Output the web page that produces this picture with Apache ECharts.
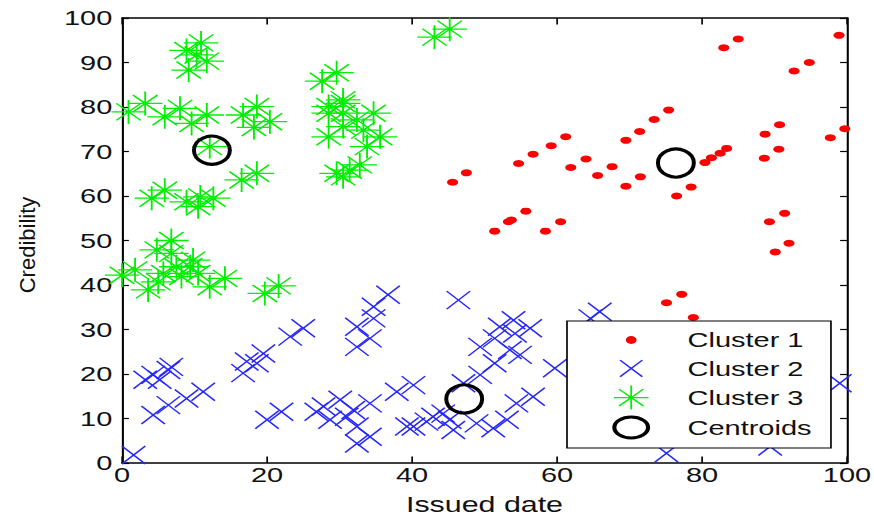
<!DOCTYPE html>
<html>
<head>
<meta charset="utf-8">
<script src="https://cdn.jsdelivr.net/npm/echarts@6/dist/echarts.min.js"></script>
<style>
html,body{margin:0;padding:0;background:#fff;}
#wrap{position:absolute;left:0;top:0;width:874px;height:517px;overflow:hidden;background:#fff;}
#c{width:633px;height:517px;transform-origin:0 0;}
</style>
</head>
<body>
<div id="wrap"><div id="c"></div></div>
<script>
// ---- data ----
const seriesNames = ['Cluster 1', 'Cluster 2', 'Cluster 3', 'Centroids'];
const xTickLabels = [0, 20, 40, 60, 80, 100];
const yTickLabels = [0, 10, 20, 30, 40, 50, 60, 70, 80, 90, 100];
const xAxisTitle = 'Issued date';
const yAxisTitle = 'Credibility';

const cluster1 = [
  [85.0,95.3],[83.0,93.3],[98.9,96.1],[94.8,90.0],[92.7,88.1],
  [75.4,79.3],[73.4,77.2],[71.4,74.5],[69.5,72.5],
  [61.2,73.3],[59.2,71.3],[56.7,69.4],[54.7,67.3],
  [47.5,65.2],[45.6,63.1],
  [64.0,68.3],[61.9,66.4],[67.6,66.6],[65.6,64.6],
  [71.5,64.3],[69.5,62.2],[78.5,62.0],[76.5,60.0],
  [83.4,70.7],[82.5,69.6],[81.3,68.6],[80.4,67.5],
  [90.7,76.0],[88.7,73.9],[90.6,70.5],[88.6,68.5],
  [99.7,75.1],[97.7,73.1],
  [55.7,56.6],[53.7,54.6],[53.3,54.2],[51.4,52.1],
  [60.5,54.2],[58.4,52.1],
  [91.4,56.1],[89.3,54.2],
  [92.0,49.4],[90.1,47.4],
  [77.2,37.9],[75.1,36.0],[78.8,32.7]
];
const cluster2 = [
  [1.6,1.8],[4.3,19.8],[6.4,20.9],[3.2,18.7],[5.2,18.7],[6.8,21.6],
  [4.3,10.8],[6.4,13.0],[8.9,14.5],[11.2,16.0],
  [16.7,20.2],[18.6,22.4],[17.2,22.8],[19.5,24.6],[23.2,28.4],[25.0,30.3],
  [20.0,9.7],[22.0,11.5],[27.8,12.7],[30.1,14.2],[28.7,9.7],[31.0,10.4],
  [32.4,4.4],[34.2,5.9],[32.4,8.2],[34.2,13.4],[31.9,11.9],[26.8,11.5],
  [32.4,26.1],[34.2,28.0],[32.4,30.6],[34.7,32.5],[36.7,37.8],[34.7,35.1],
  [37.9,16.0],[39.3,8.2],
  [46.4,36.6],[40.2,17.5],[54.0,32.1],[52.1,30.6],[56.3,30.3],[54.2,29.1],
  [49.4,26.1],[51.4,28.0],[53.5,25.4],[54.9,24.3],[51.4,22.4],[49.4,19.8],
  [47.1,17.9],[59.7,21.3],[65.9,34.0],[64.6,32.5],
  [56.7,14.9],[54.4,13.4],[53.1,9.7],[51.2,7.8],[48.9,8.9],[42.9,10.4],
  [44.3,11.1],[42.0,9.3],[40.2,8.2],[45.7,7.4],[45.2,9.7],
  [75.1,2.2],[89.4,3.7],[99.0,17.9]
];
const cluster3 = [
  [10.9,94.4],[8.9,92.7],[11.7,90.3],[9.2,88.3],[10.3,91.7],
  [29.6,87.7],[27.6,85.8],[43.1,95.7],[45.2,97.5],
  [3.2,80.8],[0.9,78.9],[8.0,79.7],[5.9,77.8],[11.7,78.2],[9.6,76.3],
  [18.6,80.1],[16.7,78.2],[20.4,76.7],[18.2,75.4],
  [30.5,81.6],[28.5,80.1],[30.5,78.6],[28.5,78.6],[30.5,75.6],[28.5,73.3],
  [32.4,77.1],[34.7,78.6],[33.3,74.8],[35.6,73.3],[33.8,71.1],[30.5,80.8],
  [29.6,65.1],[31.4,65.8],[32.8,67.0],[30.5,64.3],
  [16.5,63.6],[18.6,65.1],
  [5.9,61.3],[4.1,59.5],[10.8,59.8],[8.9,58.7],[10.5,57.6],[12.6,59.5],
  [12.1,71.1],
  [6.8,50.0],[4.8,47.9],[6.8,47.1],[0.0,42.2],[1.8,43.4],[3.6,38.9],
  [5.0,40.7],[5.7,42.6],[7.5,44.1],[8.2,41.9],[9.4,44.1],[9.8,45.6],
  [10.5,42.6],[12.1,39.6],[14.2,41.5],[19.7,38.1],[21.6,39.8]
];
const centroids = [[12.4,70.3],[76.4,67.4],[47.2,14.4]];

// ---- presentation ----
const S = 874 / 633; // horizontal stretch of the reference figure
document.getElementById('c').style.transform = 'scaleX(' + S + ')';
const FONT = 'Liberation Sans, Arial, Helvetica, sans-serif';
const TXT = '#111';
const BLUE = '#2626ff';
const GREEN = '#00ee00';

const xPath = 'path://M0,0L10,10M10,0L0,10';
const starPath = 'path://M0,5L10,5M5,0L5,10M1.46,1.46L8.54,8.54M8.54,1.46L1.46,8.54';

const legendIcons = [
  'path://M0,0M100,100M35,50A15,15,0,1,1,65,50A15,15,0,1,1,35,50Z',
  'path://M0,0M100,100M19,18L81,82M81,18L19,82',
  'path://M0,0M100,100M2,50L98,50M50,4L50,96M16,17.5L84,82.5M84,17.5L16,82.5',
  'path://M0,0M100,100M3,50A47,40,0,1,1,97,50A47,40,0,1,1,3,50Z'
];
const legendStyles = [
  {color:'#ff0000', borderWidth:0},
  {color:'rgba(0,0,0,0)', borderColor:BLUE, borderWidth:1.3},
  {color:'rgba(0,0,0,0)', borderColor:GREEN, borderWidth:1.3},
  {color:'rgba(0,0,0,0)', borderColor:'#000000', borderWidth:3}
];

const xMin = xTickLabels[0], xMax = xTickLabels[xTickLabels.length-1];
const yMin = yTickLabels[0], yMax = yTickLabels[yTickLabels.length-1];
const xInt = xTickLabels[1] - xTickLabels[0];
const yInt = yTickLabels[1] - yTickLabels[0];

const gridLeft = 122 / S, gridRight = 633 - 847 / S;

function axisBase(extra) {
  return Object.assign({
    type:'value', splitLine:{show:false},
    axisLine:{show:true, onZero:false, lineStyle:{color:'#000', width:1.5}},
    axisTick:{show:true, inside:true, lineStyle:{color:'#000', width:1.2}}
  }, extra);
}

const chart = echarts.init(document.getElementById('c'), null, {renderer:'svg'});
chart.setOption({
  animation:false,
  backgroundColor:'#fff',
  grid:{left:gridLeft, right:gridRight, top:18, bottom:54, containLabel:false, outerBoundsMode:'none'},
  xAxis:[
    axisBase({min:xMin, max:xMax, interval:xInt, position:'bottom',
      axisTick:{show:true, inside:true, length:6.5, lineStyle:{color:'#000', width:1.2}},
      axisLabel:{show:true, margin:1, fontSize:21, fontFamily:FONT, color:TXT, showMaxLabel:true, showMinLabel:true},
      name:xAxisTitle, nameLocation:'middle', nameGap:31,
      nameTextStyle:{fontSize:22, fontFamily:FONT, color:TXT}}),
    axisBase({min:xMin, max:xMax, interval:xInt, position:'top',
      axisTick:{show:true, inside:true, length:6.5, lineStyle:{color:'#000', width:1.2}},
      axisLabel:{show:false}})
  ],
  yAxis:[
    axisBase({min:yMin, max:yMax, interval:yInt, position:'left',
      axisTick:{show:true, inside:true, length:5, lineStyle:{color:'#000', width:1.2}},
      axisLabel:{show:true, margin:7, fontSize:21, fontFamily:FONT, color:TXT, showMaxLabel:true, showMinLabel:true}}),
    axisBase({min:yMin, max:yMax, interval:yInt, position:'right',
      axisTick:{show:true, inside:true, length:5, lineStyle:{color:'#000', width:1.2}},
      axisLabel:{show:false}})
  ],
  graphic:[{
    type:'text', x:27.5 / S, y:245, rotation:Math.PI/2, scaleY:1/S, silent:true,
    style:{text:yAxisTitle, fontSize:22, fontFamily:FONT, fill:TXT, align:'center', verticalAlign:'middle'}
  }],
  legend:{
    show:true, orient:'vertical', left:567 / S, top:321,
    padding:[6, 14, 6, 32], itemGap:1.8, itemWidth:71.6, itemHeight:26,
    symbolKeepAspect:true, selectedMode:false,
    backgroundColor:'#fff', borderColor:'#000', borderWidth:1.2, borderRadius:0,
    textStyle:{fontSize:21, fontFamily:FONT, color:TXT, lineHeight:24},
    data: seriesNames.map((n, i) => ({name:n, icon:legendIcons[i], itemStyle:legendStyles[i]}))
  },
  series:[
    {name:seriesNames[0], type:'scatter', data:cluster1, symbol:'circle', symbolSize:[8,7],
      itemStyle:{color:'#ff0000', opacity:1}, emphasis:{disabled:true}, z:2},
    {name:seriesNames[1], type:'scatter', data:cluster2, symbol:xPath, symbolSize:[17,18], symbolKeepAspect:false,
      itemStyle:{color:'rgba(0,0,0,0)', borderColor:BLUE, borderWidth:1.3, opacity:1}, emphasis:{disabled:true}, z:3},
    {name:seriesNames[2], type:'scatter', data:cluster3, symbol:starPath, symbolSize:[25,24], symbolKeepAspect:false,
      itemStyle:{color:'rgba(0,0,0,0)', borderColor:GREEN, borderWidth:1.3, opacity:1}, emphasis:{disabled:true}, z:4},
    {name:seriesNames[3], type:'scatter', data:centroids, symbol:'circle', symbolSize:[26,28],
      itemStyle:{color:'rgba(0,0,0,0)', borderColor:'#000', borderWidth:3, opacity:1}, emphasis:{disabled:true}, z:5}
  ]
});
</script>
</body>
</html>
